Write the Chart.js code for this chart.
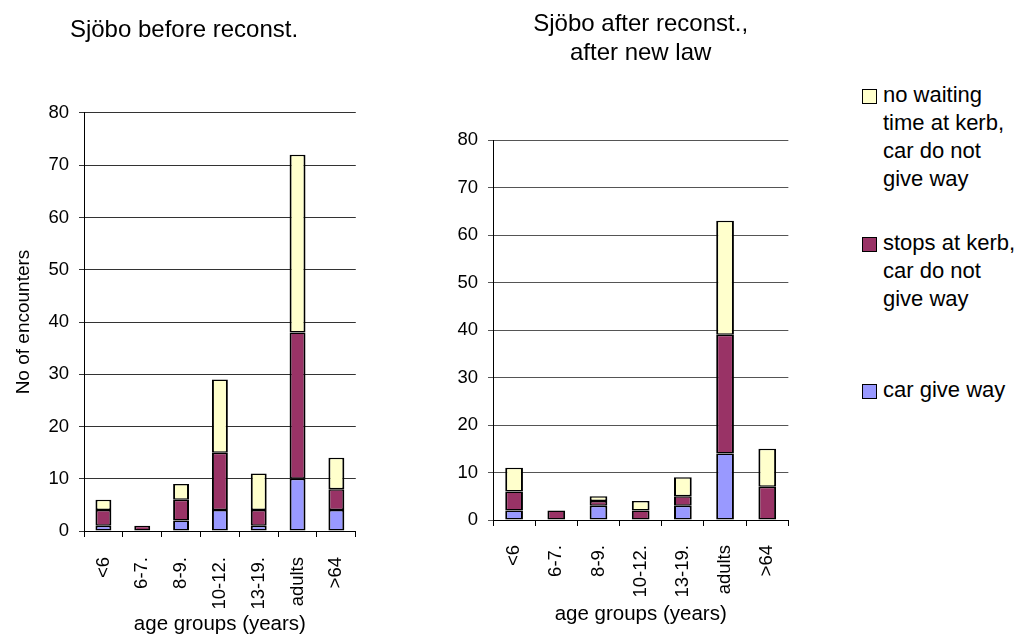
<!DOCTYPE html>
<html>
<head>
<meta charset="utf-8">
<script src="https://cdn.jsdelivr.net/npm/chart.js@4/dist/chart.umd.min.js"></script>
<style>
  html, body { margin: 0; padding: 0; background: #fff; }
  body { width: 1024px; height: 637px; position: relative; overflow: hidden;
         font-family: "Liberation Sans", Arial, sans-serif; }
  .box { position: absolute; top: 0; }
  #legend { position: absolute; left: 862px; top: 0; }
  .entry { position: absolute; left: 0; font-size: 22px; line-height: 28px; color: #000; white-space: nowrap; }
  .swatch { position: absolute; left: 0; top: 8px; width: 13px; height: 13px; border: 1px solid #000; }
  .text { position: absolute; left: 21px; top: 0; }
</style>
</head>
<body>
<div class="box" style="left:0px;width:380px;height:637px"><canvas id="before" width="380" height="637"></canvas></div>
<div class="box" style="left:410px;width:400px;height:637px"><canvas id="after" width="400" height="637"></canvas></div>
<div id="legend"></div>
<script>
// Age groups along the x axis
const categories = ['<6', '6-7.', '8-9.', '10-12.', '13-19.', 'adults', '>64'];

// Sjöbo before reconstruction (number of encounters)
const beforeGiveWay = [1, 0, 2, 4, 1, 10, 4];
const beforeStops   = [3, 1, 4, 11, 3, 28, 4];
const beforeNoWait  = [2, 0, 3, 14, 7, 34, 6];

// Sjöbo after reconstruction, after new law
const afterGiveWay = [2, 0, 3, 0, 3, 14, 0];
const afterStops   = [4, 2, 1, 2, 2, 25, 7];
const afterNoWait  = [5, 0, 1, 2, 4, 24, 8];

// Series names (legend lines) and fills
const labelGiveWay = ['car give way'];
const labelStops   = ['stops at kerb,', 'car do not', 'give way'];
const labelNoWait  = ['no waiting', 'time at kerb,', 'car do not', 'give way'];
const colorGiveWay = '#9999FF';
const colorStops   = '#993366';
const colorNoWait  = '#FFFFCC';

const yTicks = { min: 0, max: 80, step: 10 };

const FONT = '"Liberation Sans", Arial, sans-serif';

function series(label, data, color, barPct) {
  return {
    label: label.join(' '),
    data: data,
    backgroundColor: color,
    borderColor: '#000',
    borderWidth: { top: 1.5, bottom: 1.5, left: 2, right: 2 },
    borderSkipped: false,
    inflateAmount: 0,
    categoryPercentage: 1,
    barPercentage: barPct
  };
}

function makeChart(id, cfg) {
  return new Chart(document.getElementById(id), {
    type: 'bar',
    data: {
      labels: categories,
      datasets: [
        series(labelGiveWay, cfg.giveWay, colorGiveWay, cfg.barPct),
        series(labelStops, cfg.stops, colorStops, cfg.barPct),
        series(labelNoWait, cfg.noWait, colorNoWait, cfg.barPct)
      ]
    },
    options: {
      responsive: false,
      animation: false,
      devicePixelRatio: 1,
      layout: { padding: { left: 8, right: cfg.padRight, top: 0, bottom: 0 } },
      plugins: {
        legend: { display: false },
        tooltip: { enabled: false },
        title: {
          display: true,
          text: cfg.title,
          fullSize: cfg.titleFull,
          color: '#000',
          font: { family: FONT, size: 24, weight: 'normal', lineHeight: cfg.titleLH },
          padding: cfg.titlePad
        }
      },
      scales: {
        x: {
          stacked: true,
          grid: { offset: true, drawOnChartArea: false, drawTicks: true, tickLength: 6, color: '#000' },
          border: { display: true, color: '#000', width: 1 },
          ticks: { color: '#000', font: { family: FONT, size: 18.5 }, minRotation: 90, maxRotation: 90,
                   padding: cfg.xTickPad, autoSkip: false },
          title: { display: true, text: 'age groups (years)', color: '#000',
                   font: { family: FONT, size: 20.5 }, padding: { top: 0, bottom: cfg.xTitlePad } },
          afterFit: s => { s.height = cfg.xHeight; }
        },
        y: {
          stacked: true,
          min: yTicks.min, max: yTicks.max,
          grid: { color: cfg.gridColor, drawTicks: true, tickLength: 5, lineWidth: 1 },
          border: { display: true, color: '#000', width: 1 },
          ticks: { stepSize: yTicks.step, color: '#000', font: { family: FONT, size: 18.5 }, padding: 10 },
          title: { display: cfg.yTitle !== '', text: cfg.yTitle, color: '#000',
                   font: { family: FONT, size: 19 }, padding: { top: 4, bottom: 0 } },
          afterFit: s => { s.width = cfg.yWidth; }
        }
      }
    }
  });
}

makeChart('before', {
  title: 'Sjöbo before reconst.',
  titleFull: true,
  titleLH: 1.2,
  titlePad: { top: 15.6, bottom: 68.6 },
  giveWay: beforeGiveWay, stops: beforeStops, noWait: beforeNoWait,
  barPct: 0.41,
  padRight: 20,
  yWidth: 76,
  xHeight: 106,
  xTickPad: 20,
  xTitlePad: 0,
  gridColor: '#333',
  yTitle: 'No of encounters'
});

makeChart('after', {
  title: ['Sjöbo after reconst.,', 'after new law'],
  titleFull: false,
  titleLH: 1.24,
  titlePad: { top: 9, bottom: 71.5 },
  giveWay: afterGiveWay, stops: afterStops, noWait: afterNoWait,
  barPct: 0.42,
  padRight: 21,
  yWidth: 75,
  xHeight: 117,
  xTickPad: 19,
  xTitlePad: 10,
  gridColor: '#555',
  yTitle: ''
});

// Shared legend, top to bottom as the series are stacked
const legendEntries = [
  { lines: labelNoWait, color: colorNoWait, top: 81 },
  { lines: labelStops, color: colorStops, top: 229 },
  { lines: labelGiveWay, color: colorGiveWay, top: 376 }
];
const legend = document.getElementById('legend');
legendEntries.forEach(e => {
  const div = document.createElement('div');
  div.className = 'entry';
  div.style.top = e.top + 'px';
  const sw = document.createElement('div');
  sw.className = 'swatch';
  sw.style.background = e.color;
  const tx = document.createElement('div');
  tx.className = 'text';
  tx.innerHTML = e.lines.map(l => l.replace(/&/g, '&amp;').replace(/</g, '&lt;')).join('<br>');
  div.appendChild(sw);
  div.appendChild(tx);
  legend.appendChild(div);
});
</script>
</body>
</html>
